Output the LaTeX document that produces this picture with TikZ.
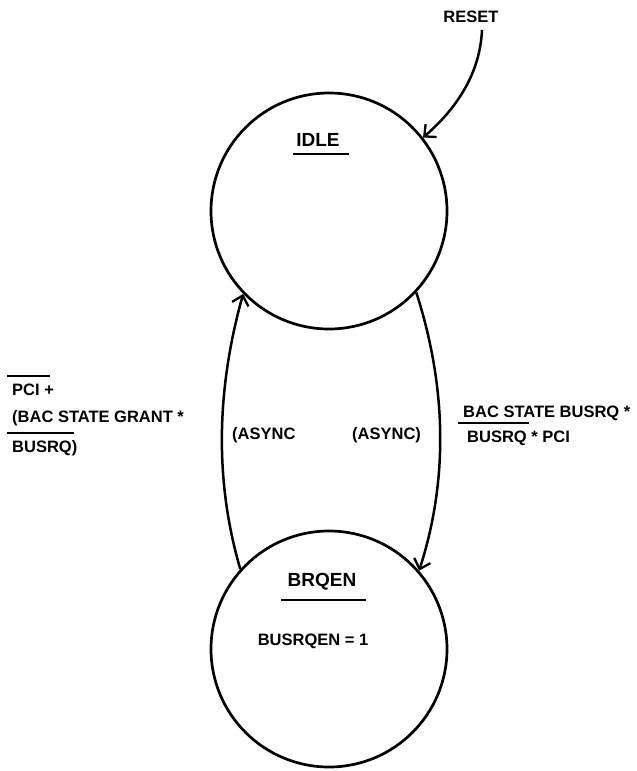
\documentclass[tikz,border=0pt]{standalone}
\usepackage{fontspec}
\setmainfont{Liberation Sans}
\usetikzlibrary{arrows.meta}
\newcommand\ovl[3]{\setbox0\hbox{#3}\rlap{\kern-#1\raisebox{18.5pt}{\rule{\dimexpr\wd0+#1+#2\relax}{1.5pt}}}\box0\relax}
\tikzset{
  state/.style={draw, circle, line width=2.7pt, minimum size=236pt, inner sep=0pt},
  lbl/.style={font=\fontsize{16.5}{20}\selectfont\bfseries, inner sep=0pt},
  big/.style={font=\fontsize{19}{22}\selectfont\bfseries, inner sep=0pt},
  arr/.style={line width=2.5pt, -{Straight Barb[length=9pt,width=17pt,line width=2.3pt]}},
  uline/.style={line width=1.8pt}
}
\begin{document}
\begin{tikzpicture}[x=1pt,y=-1pt]
\useasboundingbox (0,0) rectangle (637,771);
% states
\node[state] (idle) at (329,211) {};
\node[state] (brqen) at (329,649) {};
% state labels
\node[big] (idlelbl) at (318,140) {IDLE};
\draw[uline] ([xshift=-3pt,yshift=-7pt]idlelbl.south west) -- ([xshift=9pt,yshift=-7pt]idlelbl.south east);
\node[big] (brqenlbl) at (322,582) {BRQEN};
\draw[uline] ([xshift=-6pt,yshift=-9pt]brqenlbl.south west) -- ([xshift=9pt,yshift=-9pt]brqenlbl.south east);
\node[lbl] (out) at (313,641) {BUSRQEN = 1};
% reset
\node[lbl] (reset) at (471,17) {RESET};
\coordinate (rs) at (482,30);
\draw[arr] (rs) .. controls (480,75) and (455,110) .. (idle.38);
% transitions
\draw[arr] (idle.-43) .. controls (446,385) and (449,478) .. (brqen.41);
\draw[arr] (brqen.138) .. controls (213,476) and (218,384) .. (idle.-136);
% transition labels
\node[lbl, anchor=west] (asl) at (232,435) {(ASYNC};
\node[lbl, anchor=west] (asr) at (352,435) {(ASYNC)};
\node[lbl, anchor=base west] (l1) at (12,395) {\ovl{5pt}{10pt}{PCI} +};
\node[lbl, anchor=base west] (l2) at (12,422) {(BAC STATE GRANT *};
\node[lbl, anchor=base west] (l3) at (12,452) {\ovl{5pt}{2pt}{BUSRQ})};
\node[lbl, anchor=base west] (r1) at (463,417) {BAC STATE BUSRQ *};
\node[lbl, anchor=base west] (r2) at (467,442) {\ovl{9pt}{2pt}{BUSRQ} * PCI};
\end{tikzpicture}
\end{document}
